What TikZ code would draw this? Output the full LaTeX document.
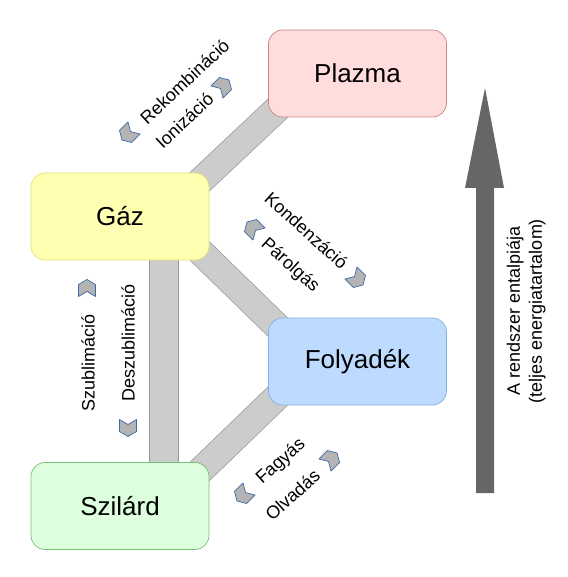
\documentclass[tikz,border=0pt]{standalone}
\usepackage{fontspec}
\setmainfont{Liberation Sans}
\usetikzlibrary{calc}
\definecolor{plfill}{RGB}{255,221,221}
\definecolor{pledge}{RGB}{205,130,130}
\definecolor{gzfill}{RGB}{255,255,178}
\definecolor{gzedge}{RGB}{225,225,120}
\definecolor{fofill}{RGB}{189,219,255}
\definecolor{foedge}{RGB}{135,175,225}
\definecolor{szfill}{RGB}{221,255,221}
\definecolor{szedge}{RGB}{120,190,120}
\definecolor{bandfill}{RGB}{204,204,204}
\definecolor{bandedge}{RGB}{150,150,150}
\definecolor{chevfill}{RGB}{180,180,180}
\definecolor{chevedge}{RGB}{60,105,170}
\definecolor{arrowgray}{RGB}{102,102,102}
\begin{document}
\begin{tikzpicture}[x=1pt,y=-1pt,
  phase/.style={rounded corners=14pt, minimum width=178pt, minimum height=87pt, inner sep=0pt, line width=0.7pt, font=\fontsize{26}{30}\selectfont},
  band/.style={draw=bandedge, line width=0.7pt, double=bandfill, double distance=26pt, shorten <=-18pt, shorten >=-18pt},
  lbl/.style={font=\fontsize{18}{22}\selectfont, inner sep=0pt},
  chevstyle/.style={fill=chevfill, draw=chevedge, line width=0.7pt, line join=round},
  chev/.pic={\draw[chevstyle] (8.5,0) -- (3.5,-8.5) -- (-8.5,-8.5) -- (-3.5,0) -- (-8.5,8.5) -- (3.5,8.5) -- cycle;}
]
\useasboundingbox (0,0) rectangle (567,577);

% invisible placeholders to get anchors for the bands
\path (357.5,73.5) coordinate (plc) (120,216.5) coordinate (gzc) (357.5,361.5) coordinate (foc) (120,506) coordinate (szc);
\path (plc) node[phase] (pl0) {} (gzc) node[phase] (gz0) {} (foc) node[phase] (fo0) {} (szc) node[phase] (sz0) {};

% bands
\draw[band] (gz0.north east) -- (pl0.south west);
\draw[band] (gz0.south east) -- (fo0.north west);
\draw[band] (fo0.south west) -- (sz0.north east);
\draw[band, double distance=28.5pt, shorten <=-5pt, shorten >=-5pt] ($(gz0.south)+(44,0)$) coordinate (gzb) -- ($(sz0.north)+(44,0)$) coordinate (szb);

% phase boxes
\node[phase, draw=pledge, fill=plfill] (pl) at (plc) {Plazma};
\node[phase, draw=gzedge, fill=gzfill] (gz) at (gzc) {Gáz};
\node[phase, draw=foedge, fill=fofill] (fo) at (foc) {Folyadék};
\node[phase, draw=szedge, fill=szfill] (sz) at (szc) {Szilárd};

% labels
\node[lbl, rotate=43] (rek) at (184.5,81.5) {Rekombináció};
\node[lbl, rotate=43] (ion) at (184.5,120.5) {Ionizáció};
\node[lbl, rotate=-42] (kon) at (306.5,230.5) {Kondenzáció};
\node[lbl, rotate=-42] (par) at (290,265.5) {Párolgás};
\node[lbl, rotate=90] (szu) at (88,363) {Szublimáció};
\node[lbl, rotate=90] (des) at (128,343) {Deszublimáció};
\node[lbl, rotate=42] (fag) at (281,461.5) {Fagyás};
\node[lbl, rotate=42] (olv) at (292.5,495) {Olvadás};

% chevrons
\pic[rotate=225] at (128,134) {chev};
\pic[rotate=45] at (223,86) {chev};
\pic[rotate=135] at (253,228) {chev};
\pic[rotate=-45] at (357,279) {chev};
\pic[rotate=90] at (87,288) {chev};
\pic[rotate=-90] at (128,428) {chev};
\pic[rotate=225] at (243,495) {chev};
\pic[rotate=45] at (331,459) {chev};

% enthalpy arrow
\fill[arrowgray] (476,493) coordinate (ab) -- (476,188) -- (465,188) -- (485,88) coordinate (at) -- (504,188) -- (494,188) -- (494,493) -- cycle;
\node[lbl, rotate=90, align=center] (ent) at (526,311) {A rendszer entalpiája\\(teljes energiatartalom)};
\end{tikzpicture}
\end{document}
